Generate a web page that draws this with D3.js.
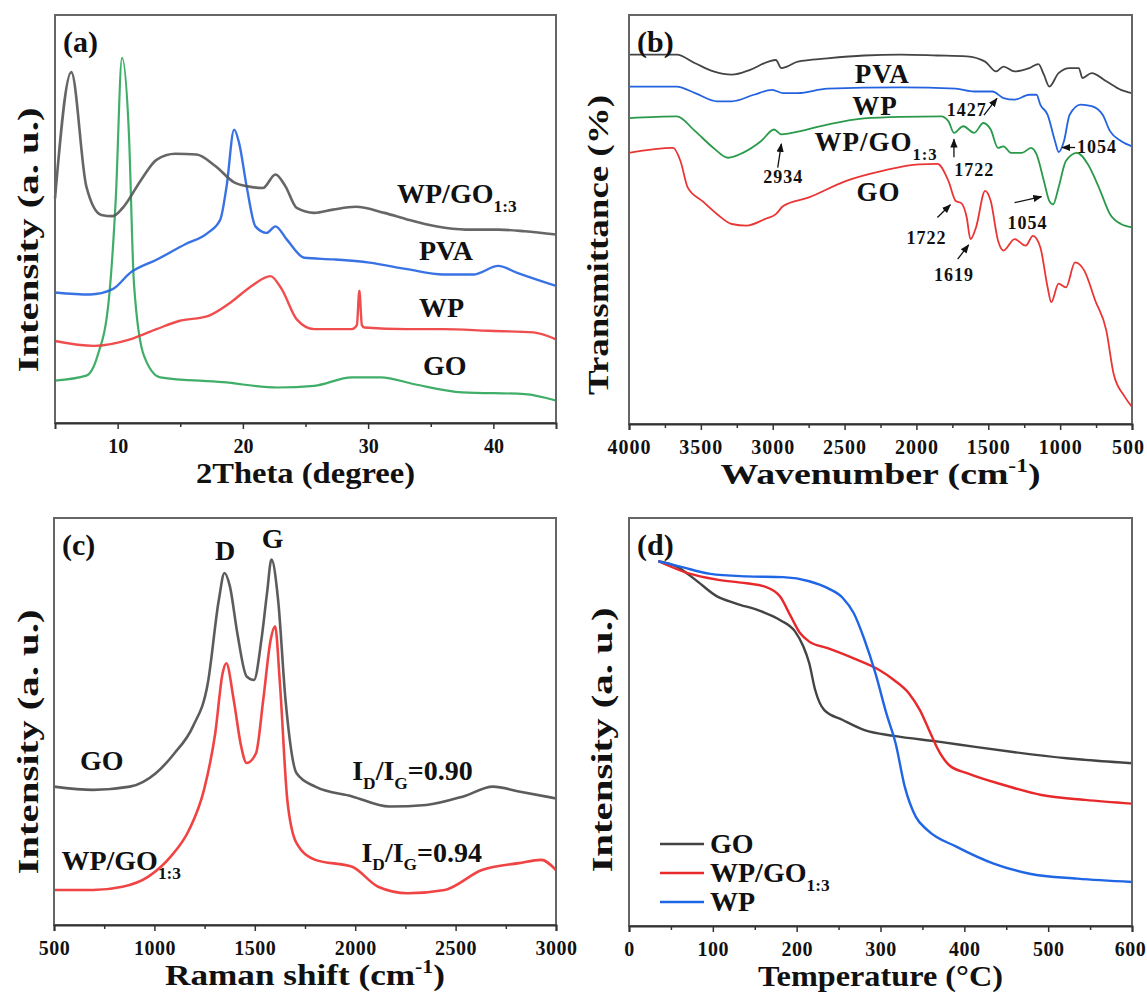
<!DOCTYPE html>
<html>
<head>
<meta charset="utf-8">
<script src="https://cdn.jsdelivr.net/npm/d3@7/dist/d3.min.js"></script>
<style>
	body { margin: 0; background: #fff; }
	svg text { font-family: "Liberation Serif", "Times New Roman", serif; font-weight: bold; fill: #111; }
</style>
</head>
<body>
<div id="chart"></div>
<script>

/************************************** Data ********************************************************/

// (a) XRD, x = 2Theta (degree), y = relative intensity (0-100 of panel height)
var xrdTicks = [10, 20, 30, 40];
var xrdMinor = [15, 25, 35];
var xrdWPGO = [[5,55],[6.3,86],[7.5,58],[8.7,51],[9.6,50.7],[10.4,52.7],[11.9,59.7],[13.1,64.5],[14.6,66],[16.3,65.8],[17.8,63],[19.3,59],[20.4,58],[21.6,57.6],[22.6,60.9],[23.4,58],[24.3,52.7],[25.7,51.5],[27.2,52.3],[29,53],[31.3,51.5],[33.1,49.9],[35.4,48.2],[37.8,47.4],[40.4,47.4],[42.5,47],[45,46.2]];
var xrdPVA = [[5,32],[7.8,31.5],[9.6,32.8],[11,36.8],[13.1,40],[15.4,43.8],[17.2,46.6],[18.2,49.9],[18.7,58],[19.3,71.9],[19.7,68.6],[20.3,58],[21,48.2],[21.9,46.6],[22.6,48.2],[23.5,45],[24.9,40.5],[27.2,40.1],[30.1,39.3],[33.1,37.7],[36,36.4],[38.4,36.4],[40.4,38.5],[41.9,36.8],[45,33.6]];
var xrdWP = [[5,20.1],[8.1,18.9],[11,20.5],[13.1,23],[14.9,25],[17.2,26.2],[19,29.5],[20.7,33.6],[22.2,36],[23.1,32.8],[24.3,25.4],[25.7,23],[28.7,23],[29.1,24],[29.3,32.4],[29.5,24],[29.7,23.4],[33.1,23],[36,23],[39.6,22.6],[43.2,22.2],[45,20.5]];
var xrdGO = [[5,10.4],[7.5,11.6],[8.4,16.5],[9.3,30.3],[9.85,54.8],[10.35,89.5],[10.9,71],[11.3,34.4],[12.1,16.5],[13.4,11.2],[18.4,10],[22.8,8.7],[25.7,9.1],[28.7,11.2],[31,11.2],[33.7,9.5],[37.5,7.5],[42.5,7.1],[45,5.5]];

// (b) FTIR, x = wavenumber (cm-1), y = transmittance (0-100 of panel height)
var ftirTicks = [4000, 3500, 3000, 2500, 2000, 1500, 1000, 500];
var ftirMinor = [3750, 3250, 2750, 2250, 1750, 1250, 750];
var ftirPVA = [[4000,90.3],[3668,90.3],[3540,88.2],[3412,86.2],[3285,85.4],[3157,86.6],[3029,88.6],[2978,89],[2940,87],[2901,87.4],[2825,88.6],[2620,89.4],[2365,90.1],[2109,90.3],[1854,90.1],[1650,89.9],[1522,88.6],[1445,86.2],[1394,87.4],[1317,86.2],[1215,87],[1151,88],[1113,85.4],[1075,82.5],[1011,85.8],[934,87],[870,87],[845,84.6],[781,85.8],[679,83.8],[577,81.7],[500,80.9]];
var ftirWP = [[4000,82.5],[3668,82.5],[3540,80.9],[3387,78.9],[3285,78.9],[3131,80.5],[3004,81.7],[2927,80.9],[2825,80.9],[2620,82],[2109,82.3],[1726,82],[1598,81.3],[1471,81.3],[1394,79.7],[1317,79.3],[1215,80.5],[1164,80.5],[1138,78.1],[1087,75.6],[1036,69.2],[1010,66.5],[973,69.2],[934,75.6],[857,78.1],[781,77.7],[704,75.6],[653,71.6],[577,69.2],[500,67.9]];
var ftirWPGO = [[4000,74.8],[3668,75.2],[3540,71.6],[3412,67.5],[3310,65.1],[3208,66.3],[3080,69.2],[2991,72],[2940,70.8],[2876,71.1],[2620,73.2],[2365,74.7],[2109,75.1],[1828,75.2],[1777,74],[1739,71.2],[1675,72.8],[1598,71.2],[1534,73.6],[1483,72],[1432,67.5],[1394,67.9],[1343,66.3],[1266,66.3],[1202,67.5],[1164,65.9],[1113,59.4],[1075,54.5],[1049,53.7],[1011,57.8],[960,64.3],[883,66.3],[807,63.5],[730,57.8],[653,51.3],[577,48.9],[500,48.1]];
var ftirGO = [[4000,66.3],[3693,67.5],[3642,64.3],[3591,57.8],[3489,54.5],[3387,51.3],[3285,48.9],[3182,48.5],[3055,50.1],[2978,51.3],[2927,53.3],[2748,55.4],[2493,59.4],[2237,61.9],[1982,63.5],[1854,63.6],[1777,59.4],[1726,54.5],[1688,54],[1650,50.5],[1624,45.2],[1586,48],[1522,57],[1483,54.5],[1432,44.8],[1394,42.4],[1317,45.2],[1240,43.6],[1189,46],[1138,43.2],[1087,33.4],[1062,29.8],[1011,34.3],[960,33.4],[896,39.5],[832,37.5],[756,30.2],[679,22.9],[628,12.3],[551,6.7],[500,4.2]];

// (c) Raman, x = Raman shift (cm-1), y = intensity (0-100 of panel height)
var ramanTicks = [500, 1000, 1500, 2000, 2500, 3000];
var ramanMinor = [750, 1250, 1750, 2250, 2750];
var ramanGO = [[500,34],[694,33.2],[878,34],[1007,37.3],[1100,42.2],[1192,48.8],[1266,59.4],[1321,79.9],[1349,86.5],[1376,83.2],[1413,71.7],[1459,61.1],[1496,60.2],[1533,70.1],[1561,81.6],[1583,89.8],[1616,79.9],[1653,55.3],[1708,37.3],[1801,34],[1985,31.6],[2170,29.1],[2354,29.5],[2539,31.6],[2686,34],[2815,32.8],[3000,31.1]];
var ramanWPGO = [[500,8.6],[694,8.6],[841,9.4],[970,11.9],[1081,16.8],[1173,23.4],[1247,33.2],[1303,47.1],[1340,61.9],[1358,64.3],[1395,55.3],[1432,43.9],[1459,39.8],[1506,42.2],[1542,55.3],[1579,70.1],[1601,73.4],[1625,59.4],[1662,30.7],[1708,20.1],[1801,16],[1985,14.3],[2114,9.4],[2262,7.8],[2446,8.6],[2631,13.5],[2815,15.2],[2926,16],[3000,13.5]];

// (d) TGA, x = temperature (C), y = remaining mass (0-100 of panel height)
var tgaTicks = [0, 100, 200, 300, 400, 500, 600];
var tgaMinor = [50, 150, 250, 350, 450, 550];
var tgaGO = [[35,89.4],[57,88.1],[79,84.9],[105,80.8],[127,79.1],[158,77.1],[180,75],[198,72.2],[208,68.5],[215,64.4],[222,57.9],[233,52.9],[255,50.5],[281,48],[316,46.6],[369,45.2],[413,43.9],[456,42.7],[522,41.1],[600,39.9]];
var tgaWPGO = [[35,89.4],[70,86.5],[105,84.9],[140,84],[162,83.2],[180,80.8],[193,75.9],[204,71.8],[215,69.7],[237,68.1],[268,65.6],[298,62.8],[316,60.3],[334,57],[347,52.9],[358,48],[369,43.1],[382,39.4],[404,37.4],[448,34.5],[492,32.1],[544,30.9],[600,30]];
var tgaWP = [[35,89.4],[61,88.1],[97,86.3],[140,85.7],[184,85.5],[215,84.5],[237,82.8],[255,80.4],[268,76.7],[281,70.1],[294,61.9],[307,52.1],[318,44.8],[329,34.1],[342,26.8],[356,23.5],[391,19.4],[435,15.3],[478,12.8],[535,11.6],[600,10.8]];

/************************************** View ********************************************************/

var width = 1147;
var height = 992;
var svg = d3.select("#chart")
	.append("svg")
	.attr("width", width)
	.attr("height", height);

// arrow head for the FTIR peak labels
svg.append("defs").append("marker")
	.attr("id", "arrow")
	.attr("viewBox", "0 0 10 10")
	.attr("refX", 9)
	.attr("refY", 5)
	.attr("markerWidth", 7)
	.attr("markerHeight", 7)
	.attr("orient", "auto")
	.append("path")
	.attr("d", "M0,1 L10,5 L0,9 z")
	.attr("fill", "#111");

/**
 * Draw one panel: frame, bottom axis, titles, clipped plotting group
 */
function makePanel(box, domain, ticks, minor, id, opt) {
	var x = d3.scaleLinear().domain(domain).range([box.left, box.right]);
	var y = d3.scaleLinear().domain([0, 100]).range([box.bottom, box.top]);
	var g = svg.append("g");

	g.append("clipPath").attr("id", "clip" + id)
		.append("rect")
		.attr("x", box.left).attr("y", box.top)
		.attr("width", box.right - box.left).attr("height", box.bottom - box.top);

	var plot = g.append("g").attr("clip-path", "url(#clip" + id + ")");

	g.append("rect")
		.attr("x", box.left).attr("y", box.top)
		.attr("width", box.right - box.left).attr("height", box.bottom - box.top)
		.attr("fill", "none")
		.attr("stroke", "#666")
		.attr("stroke-width", 2);

	// minor ticks
	g.append("g")
		.attr("transform", "translate(0," + box.bottom + ")")
		.call(d3.axisBottom(x).tickValues(minor).tickSize(4).tickFormat(""))
		.call(function(a) { a.select(".domain").remove(); })
		.selectAll("line").attr("stroke", "#333").attr("stroke-width", 1.5);

	var axis = g.append("g")
		.attr("transform", "translate(0," + box.bottom + ")")
		.call(d3.axisBottom(x).tickValues(ticks).tickSize(6).tickPadding(10).tickFormat(d3.format("d")));
	axis.select(".domain").attr("stroke", "#333").attr("stroke-width", 2);
	axis.selectAll(".tick line").attr("stroke", "#333").attr("stroke-width", 1.5);
	axis.selectAll(".tick text")
		.attr("font-size", 20)
		.attr("font-family", "Liberation Serif, serif")
		.attr("font-weight", "bold")
		.style("letter-spacing", opt.tickSpacing + "px")
		.attr("fill", "#111");
	// keep the last label inside the picture
	axis.selectAll(".tick text").filter(function(d) { return d == ticks[ticks.length - 1]; })
		.attr("dx", opt.lastShift || 0);

	// x title
	var xt = richText(g, (box.left + box.right) / 2, box.bottom + 60, opt.xTitle, 30, "middle");
	xt.attr("textLength", opt.xLen).attr("lengthAdjust", "spacingAndGlyphs");

	// y title
	var yt = richText(g, 0, 0, [[opt.yTitle]], 30, "middle");
	yt.attr("transform", "translate(" + opt.yX + "," + opt.yC + ") rotate(-90)")
		.attr("textLength", opt.yLen).attr("lengthAdjust", "spacingAndGlyphs");

	// panel letter
	g.append("text")
		.attr("x", box.left + 8)
		.attr("y", box.top + 37)
		.attr("font-size", 30)
		.text(id);

	return {x: x, y: y, plot: plot, g: g};
}

/**
 * Text with sub / superscript parts: [[text], [text, "sub"], [text, "sup"]]
 */
function richText(g, x, y, parts, size, anchor) {
	var t = g.append("text")
		.attr("x", x)
		.attr("y", y)
		.attr("font-size", size)
		.attr("text-anchor", anchor || "start");
	var shift = 0;
	parts.forEach(function(p) {
		var s = 0;
		if (p[1] == "sub") s = size * 0.32;
		if (p[1] == "sup") s = -size * 0.4;
		t.append("tspan")
			.attr("dy", s - shift)
			.attr("font-size", p[1] ? size * 0.62 : size)
			.text(p[0]);
		shift = s;
	});
	return t;
}

function drawLine(p, data, color, w, op) {
	var line = d3.line()
		.x(function(d) { return p.x(d[0]); })
		.y(function(d) { return p.y(d[1]); })
		.curve(d3.curveMonotoneX);
	var sorted = data.slice().sort(function(a, b) { return a[0] - b[0]; });
	p.plot.append("path")
		.attr("d", line(sorted))
		.attr("fill", "none")
		.attr("stroke", color)
		.attr("stroke-width", w)
		.attr("stroke-opacity", op || 1)
		.attr("stroke-linejoin", "round");
}

function arrow(p, x1, y1, x2, y2) {
	p.g.append("line")
		.attr("x1", p.x(x1)).attr("y1", p.y(y1))
		.attr("x2", p.x(x2)).attr("y2", p.y(y2))
		.attr("stroke", "#111")
		.attr("stroke-width", 1.3)
		.attr("marker-end", "url(#arrow)");
}

var cmTitle = function(name) { return [[name + " (cm"], ["-1", "sup"], [")"]]; };
var wpgo = [["WP/GO"], ["1:3", "sub"]];

/* (a) XRD */
var pa = makePanel({left: 55, top: 15, right: 556, bottom: 423}, [5, 45], xrdTicks, xrdMinor, "(a)",
	{xTitle: [["2Theta (degree)"]], xLen: 219, yTitle: "Intensity (a. u.)", yX: 38, yC: 240, yLen: 265, tickSpacing: 0});
drawLine(pa, xrdGO, "#2aa558", 2.2, 0.9);
drawLine(pa, xrdWP, "#ee3b3b", 2.4, 0.9);
drawLine(pa, xrdPVA, "#2463e0", 2.4, 0.9);
drawLine(pa, xrdWPGO, "#555", 2.6, 0.9);
richText(pa.g, 397, 203, wpgo, 28);
richText(pa.g, 419, 260, [["PVA"]], 28);
richText(pa.g, 419, 317, [["WP"]], 28);
richText(pa.g, 423, 375, [["GO"]], 28);

/* (b) FTIR */
var pb = makePanel({left: 629, top: 15, right: 1132, bottom: 424}, [4000, 500], ftirTicks, ftirMinor, "(b)",
	{xTitle: cmTitle("Wavenumber"), xLen: 320, yTitle: "Transmittance (%)", yX: 608, yC: 245, yLen: 300, tickSpacing: 1, lastShift: -4});
drawLine(pb, ftirPVA, "#444", 1.8);
drawLine(pb, ftirWP, "#2463e0", 1.8);
drawLine(pb, ftirWPGO, "#2a9a4a", 1.8);
drawLine(pb, ftirGO, "#ea3535", 1.8);
richText(pb.g, pb.x(2237), pb.y(83.4), [["PVA"]], 27, "middle").style("letter-spacing", "1px");
richText(pb.g, pb.x(2288), pb.y(75.6), [["WP"]], 27, "middle").style("letter-spacing", "1px");
richText(pb.g, pb.x(2710), pb.y(66.7), wpgo, 27).style("letter-spacing", "1px");
richText(pb.g, pb.x(2263), pb.y(54.5), [["GO"]], 27, "middle").style("letter-spacing", "1px");

var peak = function(v, wx, wy) { return richText(pb.g, pb.x(wx), pb.y(wy), [[v]], 18, "middle").style("letter-spacing", "1px"); };
peak("2934", 2927, 59);
arrow(pb, 2965, 62.7, 2940, 68.5);
peak("1427", 1649, 75.2);
arrow(pb, 1530, 75.5, 1440, 79.6);
peak("1722", 1598, 60.6);
arrow(pb, 1739, 65.2, 1739, 69.6);
peak("1722", 1930, 44);
arrow(pb, 1854, 50.5, 1764, 53.6);
peak("1619", 1739, 35);
arrow(pb, 1713, 40.3, 1637, 43.8);
peak("1054", 1228, 47.6);
arrow(pb, 1317, 54.1, 1130, 55.6);
richText(pb.g, pb.x(883), pb.y(66.3), [["1054"]], 18).style("letter-spacing", "1px");
arrow(pb, 896, 67.6, 985, 67.6);

/* (c) Raman */
var pc = makePanel({left: 54, top: 518, right: 556, bottom: 925}, [500, 3000], ramanTicks, ramanMinor, "(c)",
	{xTitle: cmTitle("Raman shift"), xLen: 280, yTitle: "Intensity (a. u.)", yX: 38, yC: 742, yLen: 265, tickSpacing: 0.5});
drawLine(pc, ramanGO, "#4a4a4a", 2.6, 0.9);
drawLine(pc, ramanWPGO, "#ee3030", 2.6, 0.9);
richText(pc.g, pc.x(1352), pc.y(89.8), [["D"]], 28, "middle");
richText(pc.g, pc.x(1589), pc.y(92.6), [["G"]], 28, "middle");
richText(pc.g, pc.x(629), pc.y(38.1), [["GO"]], 28);
richText(pc.g, pc.x(537), pc.y(13.5), wpgo, 28);
richText(pc.g, pc.x(1985), pc.y(35.7), [["I"], ["D", "sub"], ["/I"], ["G", "sub"], ["=0.90"]], 28);
richText(pc.g, pc.x(2031), pc.y(15.6), [["I"], ["D", "sub"], ["/I"], ["G", "sub"], ["=0.94"]], 28);

/* (d) TGA */
var pd = makePanel({left: 629, top: 518, right: 1132, bottom: 926}, [0, 600], tgaTicks, tgaMinor, "(d)",
	{xTitle: [["Temperature ("], ["\u00b0"], ["C)"]], xLen: 245, yTitle: "Intensity (a. u.)", yX: 612, yC: 740, yLen: 265, tickSpacing: 0.5, lastShift: -2});
drawLine(pd, tgaGO, "#444", 2.4);
drawLine(pd, tgaWPGO, "#e8292c", 2.4);
drawLine(pd, tgaWP, "#1f66e5", 2.4);

var legendNames = [[["GO"]], wpgo, [["WP"]]];
var legendColors = ["#444", "#e8292c", "#1f66e5"];
var legend = pd.g.append("g").attr("transform", "translate(" + (pd.x(0) + 31) + "," + (pd.y(0) - 82) + ")");
legendNames.forEach(function(n, i) {
	legend.append("line")
		.attr("x1", 0).attr("x2", 44)
		.attr("y1", i * 29).attr("y2", i * 29)
		.attr("stroke", legendColors[i])
		.attr("stroke-width", 2.6);
	richText(legend, 50, i * 29 + 9, n, 28);
});

</script>
</body>
</html>
